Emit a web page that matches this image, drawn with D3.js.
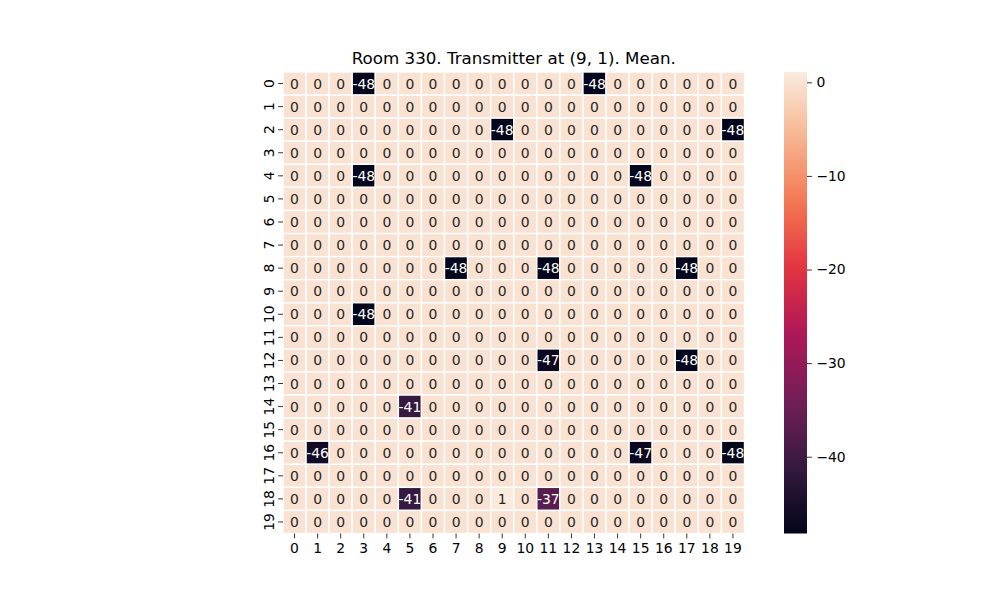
<!DOCTYPE html>
<html><head><meta charset="utf-8">
<script src="https://cdn.jsdelivr.net/npm/d3@7"></script>
<style>body{margin:0;background:#fff;} text{font-family:"DejaVu Sans",sans-serif;}</style>
</head><body>
<svg id="chart" width="1000" height="600"></svg>
<script>
const title = "Room 330. Transmitter at (9, 1). Mean.";
const rowLabels = d3.range(20).map(String);
const colLabels = d3.range(20).map(String);
const values = [
 [0,0,0,-48,0,0,0,0,0,0,0,0,0,-48,0,0,0,0,0,0],
 [0,0,0,0,0,0,0,0,0,0,0,0,0,0,0,0,0,0,0,0],
 [0,0,0,0,0,0,0,0,0,-48,0,0,0,0,0,0,0,0,0,-48.2],
 [0,0,0,0,0,0,0,0,0,0,0,0,0,0,0,0,0,0,0,0],
 [0,0,0,-48,0,0,0,0,0,0,0,0,0,0,0,-48,0,0,0,0],
 [0,0,0,0,0,0,0,0,0,0,0,0,0,0,0,0,0,0,0,0],
 [0,0,0,0,0,0,0,0,0,0,0,0,0,0,0,0,0,0,0,0],
 [0,0,0,0,0,0,0,0,0,0,0,0,0,0,0,0,0,0,0,0],
 [0,0,0,0,0,0,0,-48,0,0,0,-48,0,0,0,0,0,-48,0,0],
 [0,0,0,0,0,0,0,0,0,0,0,0,0,0,0,0,0,0,0,0],
 [0,0,0,-48,0,0,0,0,0,0,0,0,0,0,0,0,0,0,0,0],
 [0,0,0,0,0,0,0,0,0,0,0,0,0,0,0,0,0,0,0,0],
 [0,0,0,0,0,0,0,0,0,0,0,-47,0,0,0,0,0,-48,0,0],
 [0,0,0,0,0,0,0,0,0,0,0,0,0,0,0,0,0,0,0,0],
 [0,0,0,0,0,-41,0,0,0,0,0,0,0,0,0,0,0,0,0,0],
 [0,0,0,0,0,0,0,0,0,0,0,0,0,0,0,0,0,0,0,0],
 [0,-46,0,0,0,0,0,0,0,0,0,0,0,0,0,-47,0,0,0,-48],
 [0,0,0,0,0,0,0,0,0,0,0,0,0,0,0,0,0,0,0,0],
 [0,0,0,0,0,-41,0,0,0,1.1,0,-37,0,0,0,0,0,0,0,0],
 [0,0,0,0,0,0,0,0,0,0,0,0,0,0,0,0,0,0,0,0]
];
const cbTicks = [0,-10,-20,-30,-40];
const rocketStops = ["#03051a","#35193e","#701f57","#ad1759","#e13342","#f37651","#f6b48f","#faebdd"];
const rocketPos = [0,1/7,2/7,3/7,4/7,5/7,6/7,1];

const svg = d3.select("#chart");
const L = 283, T = 72, S = 461.5;
const x = d3.scaleBand().domain(colLabels).range([L, L+S]);
const y = d3.scaleBand().domain(rowLabels).range([T, T+S]);
const flat = values.flat();
const [vmin, vmax] = d3.extent(flat);
const rocket = d3.scaleLinear().domain(rocketPos).range(rocketStops).interpolate(d3.interpolateRgb);
const color = v => rocket((v - vmin)/(vmax - vmin));

const cells = [];
values.forEach((row,i)=>row.forEach((v,j)=>cells.push({r:rowLabels[i],c:colLabels[j],v})));

svg.append("g").selectAll("rect").data(cells).join("rect")
  .attr("x",d=>x(d.c)).attr("y",d=>y(d.r))
  .attr("width",x.bandwidth()).attr("height",y.bandwidth())
  .attr("fill",d=>color(d.v)).attr("stroke","#fff").attr("stroke-width",1.4);

function lum(c){
  const r = d3.rgb(c);
  const f = u => { u/=255; return u<=0.03928? u/12.92 : Math.pow((u+0.055)/1.055,2.4); };
  return 0.2126*f(r.r)+0.7152*f(r.g)+0.0722*f(r.b);
}
svg.append("g").selectAll("text").data(cells).join("text")
  .attr("x",d=>x(d.c)+x.bandwidth()/2).attr("y",d=>y(d.r)+y.bandwidth()/2)
  .attr("text-anchor","middle").attr("dominant-baseline","central")
  .attr("font-size","13.9px")
  .attr("fill",d=>lum(color(d.v))>0.408?"#262626":"#ffffff")
  .text(d=>String(Math.round(d.v)));

// x axis
const xa = svg.append("g").attr("transform",`translate(0,${T+S})`)
  .call(d3.axisBottom(x).tickSize(4.9).tickPadding(4.5));
xa.select(".domain").remove();
xa.selectAll("line").attr("stroke","#000").attr("stroke-width",0.8);
xa.selectAll("text").attr("font-size","13.9px").attr("fill","#000").attr("font-family","DejaVu Sans");

// y axis
const ya = svg.append("g").attr("transform",`translate(${L},0)`)
  .call(d3.axisLeft(y).tickSize(4.9).tickPadding(4.5));
ya.select(".domain").remove();
ya.selectAll("line").attr("stroke","#000").attr("stroke-width",0.8);
ya.selectAll("text").attr("font-size","13.9px").attr("fill","#000").attr("font-family","DejaVu Sans")
  .attr("text-anchor","middle").attr("dy",null)
  .attr("x",0).attr("y",0).attr("dominant-baseline","central")
  .attr("transform",`translate(${-4.9-4.5-4.8},0) rotate(-90)`);

// title
svg.append("text").attr("x",L+S/2).attr("y",64).attr("text-anchor","middle")
  .attr("font-size","16.7px").attr("fill","#000").text(title);

// colorbar
const cbX = 784, cbW = 23, cbT = 72, cbB = 533.5;
const cy = d3.scaleLinear().domain([vmin, vmax]).range([cbB, cbT]);
const defs = svg.append("defs");
const grad = defs.append("linearGradient").attr("id","cbg").attr("x1",0).attr("y1",1).attr("x2",0).attr("y2",0);
d3.range(0,1.0001,0.02).forEach(t=>grad.append("stop").attr("offset",t).attr("stop-color",rocket(t)));
svg.append("rect").attr("x",cbX).attr("y",cbT).attr("width",cbW).attr("height",cbB-cbT).attr("fill","url(#cbg)");
const ca = svg.append("g").attr("transform",`translate(${cbX+cbW},0)`)
  .call(d3.axisRight(cy).tickValues(cbTicks).tickSize(4.9).tickPadding(4.5).tickFormat(d=>d<0?"\u2212"+Math.abs(d):String(d)));
ca.select(".domain").remove();
ca.selectAll("line").attr("stroke","#000").attr("stroke-width",0.8);
ca.selectAll("text").attr("font-size","13.9px").attr("fill","#000").attr("font-family","DejaVu Sans");
</script>
</body></html>
